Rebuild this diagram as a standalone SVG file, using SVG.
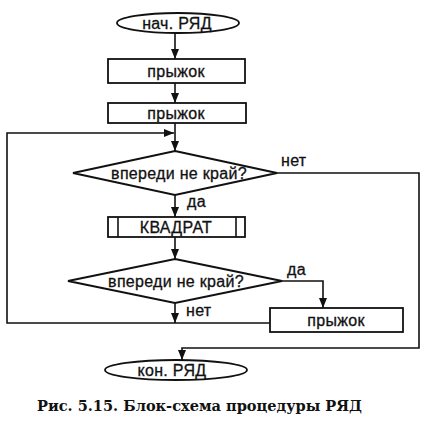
<svg xmlns="http://www.w3.org/2000/svg" width="427" height="423" viewBox="0 0 427 423">
<style>
.s{fill:#fff;stroke:#111;stroke-width:1.8}
.c{fill:none;stroke:#111;stroke-width:1.6}
.t{font-family:"Liberation Sans",Arial,sans-serif;font-size:16px;letter-spacing:0.3px;fill:#111;stroke:#111;stroke-width:0.3;text-anchor:middle}
.l{font-family:"Liberation Sans",Arial,sans-serif;font-size:16px;letter-spacing:0.3px;fill:#111;stroke:#111;stroke-width:0.3}
.cap{font-family:"DejaVu Serif","Liberation Serif",serif;font-weight:bold;font-size:15.5px;fill:#111}
</style>
<defs>
<marker id="a" viewBox="0 0 10 8" refX="10" refY="4" markerWidth="10" markerHeight="8" markerUnits="userSpaceOnUse" orient="auto">
<path d="M0,0 L10,4 L0,8 Z" fill="#111"/>
</marker>
</defs>
<g id="connectors">
<line class="c" x1="175" y1="33" x2="175" y2="59" marker-end="url(#a)"/>
<line class="c" x1="175" y1="83" x2="175" y2="103" marker-end="url(#a)"/>
<line class="c" x1="175" y1="123" x2="175" y2="151" marker-end="url(#a)"/>
<path class="c" d="M270,323 H7 V133 H174" marker-end="url(#a)"/>
<path class="c" d="M277,173 H419 V348 H182 V360" marker-end="url(#a)"/>
<line class="c" x1="175" y1="195" x2="175" y2="217" marker-end="url(#a)"/>
<line class="c" x1="175" y1="237" x2="175" y2="259" marker-end="url(#a)"/>
<path class="c" d="M282,281 H323 V308" marker-end="url(#a)"/>
<line class="c" x1="175" y1="303" x2="175" y2="323" marker-end="url(#a)"/>
</g>
<g id="start">
<ellipse class="s" cx="178" cy="23" rx="61" ry="10"/>
<text class="t" x="177" y="28.5">нач. РЯД</text>
</g>
<g id="jump1">
<rect class="s" x="108" y="59" width="137" height="24"/>
<text class="t" x="176" y="76.5">прыжок</text>
</g>
<g id="jump2">
<rect class="s" x="108" y="103" width="138" height="20"/>
<text class="t" x="176" y="118.5">прыжок</text>
</g>
<g id="cond1">
<polygon class="s" points="175,151 277,173 175,195 73,173"/>
<text class="t" x="179" y="178.5">впереди не край?</text>
<text class="l" x="281" y="166">нет</text>
<text class="l" x="187" y="207">да</text>
</g>
<g id="square">
<rect class="s" x="108" y="217" width="137" height="20"/>
<line class="c" x1="118" y1="217" x2="118" y2="237"/>
<line class="c" x1="236" y1="217" x2="236" y2="237"/>
<text class="t" x="176" y="232.5">КВАДРАТ</text>
</g>
<g id="cond2">
<polygon class="s" points="175,259 282,281 175,303 68,281"/>
<text class="t" x="176" y="286.5">впереди не край?</text>
<text class="l" x="287" y="275">да</text>
<text class="l" x="186" y="316">нет</text>
</g>
<g id="jump3">
<rect class="s" x="270" y="308" width="133" height="24"/>
<text class="t" x="336" y="325.5">прыжок</text>
</g>
<g id="end">
<ellipse class="s" cx="176" cy="370" rx="71" ry="10"/>
<text class="t" x="172" y="375.5">кон. РЯД</text>
</g>
<text class="cap" x="37" y="411" textLength="325" lengthAdjust="spacingAndGlyphs">Рис. 5.15. Блок-схема процедуры РЯД</text>
</svg>
